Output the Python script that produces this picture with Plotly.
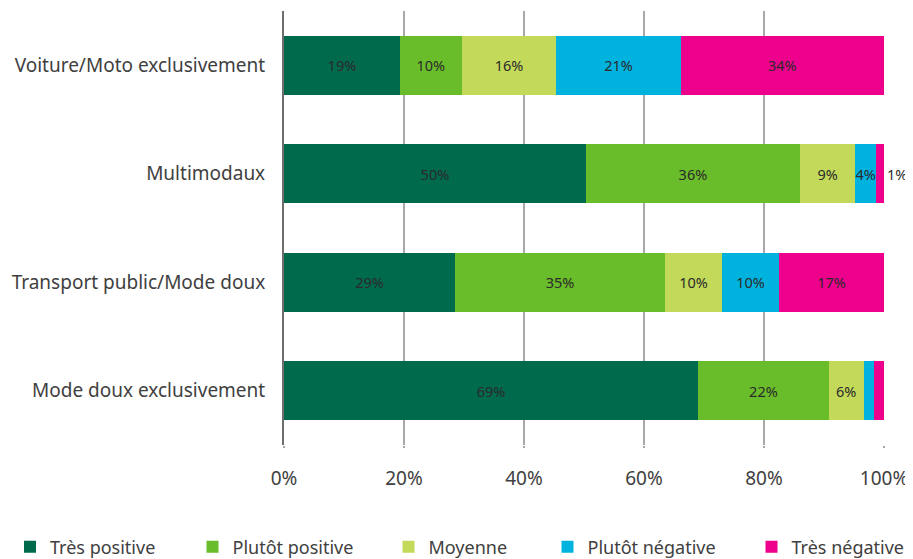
import plotly.graph_objects as go

categories = ["Voiture/Moto exclusivement", "Multimodaux",
              "Transport public/Mode doux", "Mode doux exclusivement"]
series = ["Très positive", "Plutôt positive", "Moyenne", "Plutôt négative", "Très négative"]
colors = ["#006a4d", "#6abd2a", "#c3d95a", "#00b3df", "#ec008c"]

tres_positive = [19.3, 50.3, 28.5, 69.0]
plutot_positive = [10.3, 35.7, 35.0, 21.8]
moyenne = [15.8, 9.2, 9.5, 5.8]
plutot_negative = [20.7, 3.5, 9.5, 1.7]
tres_negative = [33.9, 1.3, 17.5, 1.7]

labels_tp = ["19%", "50%", "29%", "69%"]
labels_pp = ["10%", "36%", "35%", "22%"]
labels_mo = ["16%", "9%", "10%", "6%"]
labels_pn = ["21%", "4%", "10%", ""]
labels_tn = ["34%", "1%", "17%", ""]

values = [tres_positive, plutot_positive, moyenne, plutot_negative, tres_negative]
labels = [labels_tp, labels_pp, labels_mo, labels_pn, labels_tn]

# the page body has an 8px margin, so the figure is drawn 8px smaller
W, H = 905, 551
L, R, T, B = 276, 29, 3, 114

# one legend per series so each entry sits where the original has it
legend_ids = ["legend2", "legend3", "legend4", "legend5", "legend6"]
legend_left_px = [2, 184.5, 380.5, 539.5, 743.5]

fig = go.Figure()
for name, vals, txt, col, lg in zip(series, values, labels, colors, legend_ids):
    # the tiny last segment of "Multimodaux" has its label spilling past the bar
    pos = ["outside" if (t == "1%") else "inside" for t in txt]
    fig.add_trace(go.Bar(
        y=categories,
        x=vals,
        name=name,
        orientation="h",
        marker_color=col,
        marker_line_width=0,
        text=txt,
        textposition=pos,
        insidetextanchor="middle",
        textangle=0,
        constraintext="none",
        cliponaxis=False,
        textfont=dict(size=14.5, color="#2a2a2a"),
        hoverinfo="x+y+name",
        legend=lg,
        showlegend=True,
    ))

legends = {}
for lg, px_left in zip(legend_ids, legend_left_px):
    legends[lg] = dict(
        orientation="h",
        xref="container", x=px_left / W, xanchor="left",
        yref="container", y=1 - 539 / H, yanchor="middle",
        bgcolor="rgba(0,0,0,0)",
        font=dict(size=18, color="#404040"),
        itemwidth=30,
    )

fig.update_layout(
    barmode="stack",
    bargap=0.46,
    width=W,
    height=H,
    plot_bgcolor="white",
    paper_bgcolor="white",
    font=dict(family="Noto Sans, sans-serif", color="#404040"),
    margin=dict(l=L, r=R, t=T, b=B),
    xaxis=dict(
        range=[0, 100],
        tickvals=[0, 20, 40, 60, 80, 100],
        ticktext=["0%", "20%", "40%", "60%", "80%", "100%"],
        showgrid=True,
        gridcolor="#a8a8a8",
        gridwidth=1.5,
        zeroline=False,
        ticks="outside",
        ticklen=2,
        tickwidth=1.5,
        tickcolor="#a8a8a8",
        ticklabelstandoff=14,
        tickfont=dict(size=19, color="#404040"),
        automargin=False,
    ),
    yaxis=dict(
        categoryorder="array",
        categoryarray=categories,
        autorange="reversed",
        showline=True,
        linecolor="#6e6e6e",
        linewidth=2,
        ticks="",
        ticklabelstandoff=13,
        tickfont=dict(size=19, color="#404040"),
        automargin=False,
    ),
    **legends,
)

fig.write_html("out.html")
